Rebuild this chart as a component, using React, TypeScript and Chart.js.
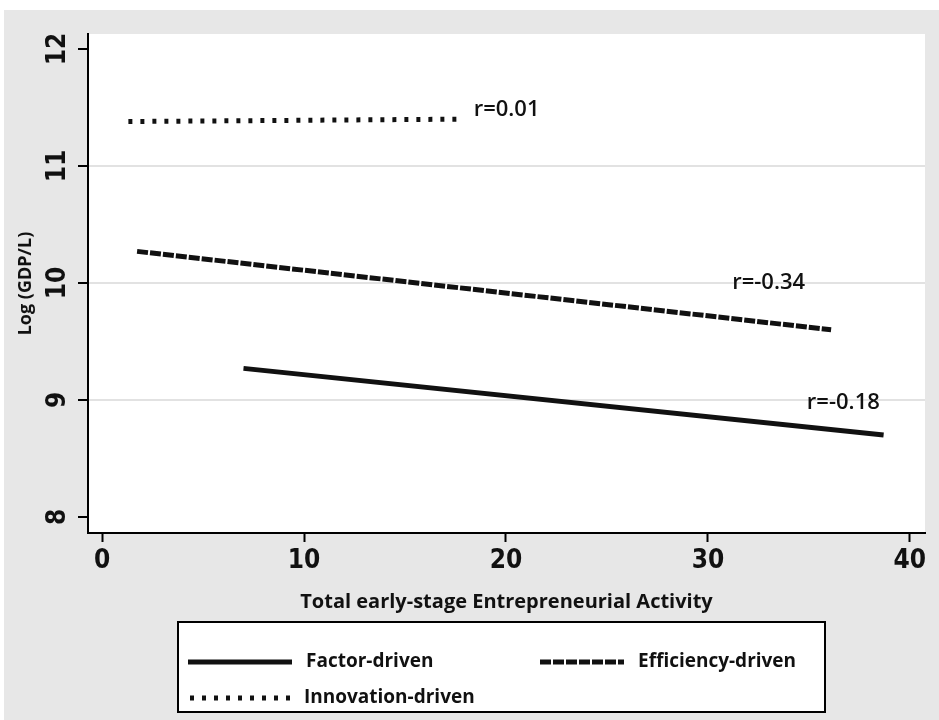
import React, { useEffect, useRef } from "react";
import { Chart, registerables } from "chart.js";

Chart.register(...registerables);

// ---- data ----
const SERIES_LABELS = ["Factor-driven", "Efficiency-driven", "Innovation-driven"];
const FACTOR_X = [7.0, 38.7];
const FACTOR_Y = [9.27, 8.7];
const EFFICIENCY_X = [1.73, 36.1];
const EFFICIENCY_Y = [10.27, 9.6];
const INNOVATION_X = [1.3, 17.6];
const INNOVATION_Y = [11.38, 11.4];
const X_TICKS = [0, 10, 20, 30, 40];
const Y_TICKS = [8, 9, 10, 11, 12];
const Y_GRID = [9, 10, 11];
const ANNOT_TEXT = ["r=0.01", "r=-0.34", "r=-0.18"];
const ANNOT_X = [18.4, 31.2, 34.9];
const ANNOT_Y = [11.48, 10.0, 8.98];
const X_TITLE = "Total early-stage Entrepreneurial Activity";
const Y_TITLE = "Log (GDP/L)";

const TICK_FONT = '"Liberation Sans Narrow", "DejaVu Sans Condensed", "Liberation Sans", sans-serif';
const TEXT_FONT = '"Open Sans", "Liberation Sans", sans-serif';
const INK = "#111111";

const pts = (xs: number[], ys: number[]) => xs.map((x, i) => ({ x, y: ys[i] }));

const plotBgPlugin = {
  id: "plotBg",
  beforeDraw(chart: any) {
    const { ctx, chartArea } = chart;
    ctx.save();
    ctx.fillStyle = "#ffffff";
    ctx.fillRect(chartArea.left, chartArea.top, chartArea.right - chartArea.left, chartArea.bottom - chartArea.top);
    ctx.restore();
  },
};

// Stata-style vertical (rotated) y tick labels, placed by the y scale
const yTickLabelPlugin = {
  id: "yTickLabels",
  afterDraw(chart: any) {
    const { ctx } = chart;
    const ys = chart.scales.y;
    ctx.save();
    ctx.fillStyle = INK;
    ctx.font = `bold 26px ${TICK_FONT}`;
    ctx.textAlign = "center";
    ctx.textBaseline = "middle";
    ys.ticks.forEach((t: any) => {
      const py = ys.getPixelForValue(t.value);
      ctx.save();
      ctx.translate(ys.right - 30, py);
      ctx.rotate(-Math.PI / 2);
      ctx.fillText(String(t.value), 0, 0);
      ctx.restore();
    });
    ctx.restore();
  },
};

const annotPlugin = {
  id: "annot",
  afterDatasetsDraw(chart: any) {
    const { ctx, scales } = chart;
    ctx.save();
    ctx.fillStyle = INK;
    ctx.font = `600 22px ${TEXT_FONT}`;
    ctx.textAlign = "left";
    ctx.textBaseline = "middle";
    ANNOT_TEXT.forEach((t, i) => {
      ctx.fillText(t, scales.x.getPixelForValue(ANNOT_X[i]), scales.y.getPixelForValue(ANNOT_Y[i]));
    });
    ctx.restore();
  },
};

const boxLegendPlugin = {
  id: "boxLegend",
  afterDraw(chart: any) {
    const { ctx } = chart;
    const box = { left: 174, top: 612, width: 647, height: 90 };
    ctx.save();
    ctx.fillStyle = "#ffffff";
    ctx.fillRect(box.left, box.top, box.width, box.height);
    ctx.strokeStyle = "#000000";
    ctx.lineWidth = 2;
    ctx.strokeRect(box.left, box.top, box.width, box.height);
    const slots = [
      { x: 184, y: 652, w: 104 },
      { x: 536, y: 652, w: 84 },
      { x: 186, y: 688, w: 100 },
    ];
    chart.data.datasets.forEach((ds: any, i: number) => {
      const s = slots[i];
      ctx.save();
      ctx.strokeStyle = ds.borderColor;
      ctx.lineWidth = ds.borderWidth;
      ctx.setLineDash(ds.borderDash || []);
      ctx.beginPath();
      ctx.moveTo(s.x, s.y);
      ctx.lineTo(s.x + s.w, s.y);
      ctx.stroke();
      ctx.restore();
      ctx.fillStyle = INK;
      ctx.font = `bold 19px ${TEXT_FONT}`;
      ctx.textAlign = "left";
      ctx.textBaseline = "middle";
      ctx.fillText(ds.label, s.x + s.w + 14, s.y);
    });
    ctx.restore();
  },
};

export default function App() {
  const ref = useRef<HTMLCanvasElement | null>(null);

  useEffect(() => {
    if (!ref.current) return;
    const chart = new Chart(ref.current, {
      type: "line",
      data: {
        datasets: [
          {
            label: SERIES_LABELS[0],
            data: pts(FACTOR_X, FACTOR_Y),
            borderColor: INK,
            borderWidth: 5,
            borderDash: [],
            pointRadius: 0,
          },
          {
            label: SERIES_LABELS[1],
            data: pts(EFFICIENCY_X, EFFICIENCY_Y),
            borderColor: INK,
            borderWidth: 5,
            borderDash: [11, 2],
            pointRadius: 0,
          },
          {
            label: SERIES_LABELS[2],
            data: pts(INNOVATION_X, INNOVATION_Y),
            borderColor: INK,
            borderWidth: 5,
            borderDash: [4, 8],
            pointRadius: 0,
          },
        ],
      },
      options: {
        animation: false,
        responsive: false,
        layout: { padding: { left: 0, right: 14, top: 24, bottom: 97 } },
        plugins: { legend: { display: false }, tooltip: { enabled: false } },
        scales: {
          x: {
            type: "linear",
            min: -0.7,
            max: 40.75,
            afterBuildTicks: (s: any) => {
              s.ticks = X_TICKS.map((v) => ({ value: v }));
            },
            afterFit: (s: any) => {
              s.height = 90;
            },
            grid: { drawOnChartArea: false, tickLength: 9, tickWidth: 2, tickColor: "#000", color: "#000" },
            border: { color: "#000", width: 2 },
            ticks: {
              font: { family: TICK_FONT, size: 26, weight: "bold" },
              color: INK,
              padding: 4,
              minRotation: 0,
              maxRotation: 0,
            },
            title: {
              display: true,
              text: X_TITLE,
              font: { family: TEXT_FONT, size: 20, weight: "bold" },
              color: INK,
              padding: { top: 0, bottom: 9 },
            },
          },
          y: {
            type: "linear",
            min: 7.863,
            max: 12.128,
            afterBuildTicks: (s: any) => {
              s.ticks = Y_TICKS.map((v) => ({ value: v }));
            },
            afterFit: (s: any) => {
              s.width = 84;
            },
            grid: {
              color: (c: any) => (c.tick && Y_GRID.includes(c.tick.value) ? "#e2e2e2" : "rgba(0,0,0,0)"),
              lineWidth: 2,
              tickLength: 10,
              tickWidth: 2,
              tickColor: "#000",
            },
            border: { color: "#000", width: 2 },
            ticks: { display: false },
            title: {
              display: true,
              text: Y_TITLE,
              font: { family: TEXT_FONT, size: 18, weight: "bold" },
              color: INK,
              padding: { top: 11, bottom: 0 },
            },
          },
        },
      },
      plugins: [plotBgPlugin, annotPlugin, yTickLabelPlugin, boxLegendPlugin],
    } as any);
    return () => chart.destroy();
  }, []);

  return (
    <div style={{ position: "absolute", left: 0, top: 0, width: 939, height: 720, background: "#ffffff" }}>
      <div style={{ position: "absolute", left: 4, top: 10, width: 935, height: 710, background: "#e7e7e7" }}>
        <canvas ref={ref} width={935} height={710} style={{ display: "block" }} />
      </div>
    </div>
  );
}
